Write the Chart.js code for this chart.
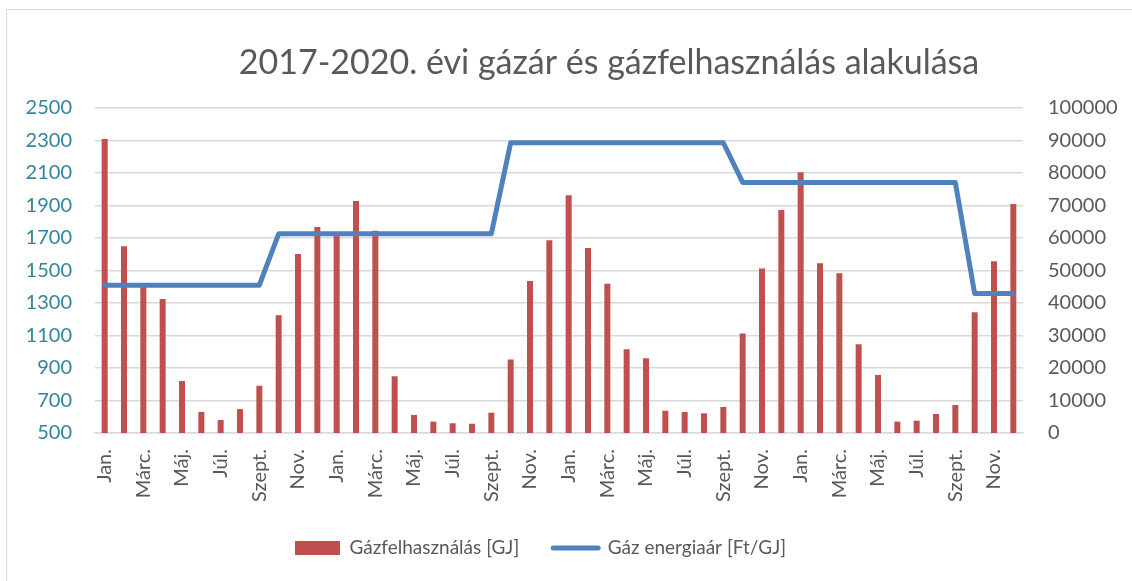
<!DOCTYPE html>
<html>
<head>
<meta charset="utf-8">
<script src="https://cdn.jsdelivr.net/npm/chart.js@4.4.1/dist/chart.umd.min.js"></script>
<style>
  html, body { margin: 0; padding: 0; background: #ffffff; }
  #wrap { position: relative; width: 1132px; height: 581px; overflow: hidden; background: #fff; }
  #frame { position: absolute; left: 6px; top: 9px; width: 1300px; height: 800px;
           border-top: 1.5px solid #d9d9d9; border-left: 1.5px solid #d9d9d9; pointer-events: none; }
  canvas { position: absolute; left: 0; top: 0; }
</style>
</head>
<body>
<div id="wrap">
  <div id="frame"></div>
  <canvas id="c" width="1132" height="581"></canvas>
</div>
<script>
// ---- data ----
const chartTitle = '2017-2020. évi gázár és gázfelhasználás alakulása';
const years = ['2017', '2018', '2019', '2020'];
const monthNames = ['Jan.', 'Febr.', 'Márc.', 'Ápr.', 'Máj.', 'Jún.', 'Júl.', 'Aug.', 'Szept.', 'Okt.', 'Nov.', 'Dec.'];
const categories = years.flatMap(() => monthNames);

const consumptionLabel = 'Gázfelhasználás [GJ]';
const consumption2017 = [2310, 1650, 1400, 1325, 820, 630, 580, 648, 791, 1224, 1601, 1768];
const consumption2018 = [1720, 1928, 1745, 849, 611, 570, 560, 557, 625, 953, 1435, 1686];
const consumption2019 = [1963, 1638, 1419, 1015, 960, 637, 629, 621, 660, 1113, 1513, 1872];
const consumption2020 = [2104, 1544, 1483, 1046, 857, 570, 576, 617, 672, 1243, 1557, 1909];
const consumption = [...consumption2017, ...consumption2018, ...consumption2019, ...consumption2020];

const priceLabel = 'Gáz energiaár [Ft/GJ]';
const price2017 = [45500, 45500, 45500, 45500, 45500, 45500, 45500, 45500, 45500, 61300, 61300, 61300];
const price2018 = [61300, 61300, 61300, 61300, 61300, 61300, 61300, 61300, 61300, 89300, 89300, 89300];
const price2019 = [89300, 89300, 89300, 89300, 89300, 89300, 89300, 89300, 89300, 77100, 77100, 77100];
const price2020 = [77100, 77100, 77100, 77100, 77100, 77100, 77100, 77100, 77100, 42900, 42900, 42900];
const price = [...price2017, ...price2018, ...price2019, ...price2020];

// axis ranges: [min, max, step]
const gjAxis = [500, 2500, 200];
const priceAxis = [0, 100000, 10000];

// ---- styling ----
const FONT = 'Lato';
const GRID = '#D9D9D9';
const TEXT = '#595959';

const titlePlugin = {
  id: 'customTitle',
  afterDraw(chart) {
    const ctx = chart.ctx;
    ctx.save();
    ctx.font = 'normal 34px ' + FONT;
    ctx.fillStyle = TEXT;
    ctx.textAlign = 'center';
    ctx.textBaseline = 'middle';
    ctx.fillText(chartTitle, 609, 63);
    ctx.restore();
  }
};

const legendShift = {
  id: 'legendShift',
  afterLayout(chart) {
    const lg = chart.legend;
    if (!lg || !lg.lineWidths) return;
    const p = lg.options.labels.padding;
    const start = (lg.left + p + lg.right - lg.lineWidths[0]) / 2;
    const dx = 295 - start;
    lg.left += dx;
    lg.right += dx;
  }
};

const plainNumber = (v) => String(v);

new Chart(document.getElementById('c'), {
  data: {
    labels: categories,
    datasets: [
      {
        type: 'bar',
        label: consumptionLabel,
        data: consumption,
        backgroundColor: '#C0504D',
        borderWidth: 0,
        yAxisID: 'y',
        barPercentage: 0.31,
        categoryPercentage: 1,
        order: 1
      },
      {
        type: 'line',
        label: priceLabel,
        data: price,
        borderColor: '#4F81BD',
        backgroundColor: '#4F81BD',
        borderWidth: 5,
        borderJoinStyle: 'round',
        borderCapStyle: 'round',
        pointRadius: 0,
        tension: 0,
        fill: false,
        yAxisID: 'y1',
        order: 0
      }
    ]
  },
  options: {
    responsive: false,
    animation: false,
    layout: { padding: { top: 108, bottom: 13.5, left: 0, right: 0 } },
    scales: {
      x: {
        offset: true,
        grid: { display: false, drawTicks: false },
        border: { display: true, color: GRID, width: 1.5 },
        ticks: {
          autoSkip: false, minRotation: 90, maxRotation: 90, padding: 16,
          color: TEXT, font: { family: FONT, size: 20 },
          callback: (v, i) => (i % 2 === 0 ? categories[i] : '')
        },
        afterFit: (s) => { s.height = 71.5; }
      },
      y: {
        position: 'left',
        min: gjAxis[0], max: gjAxis[1],
        ticks: { stepSize: gjAxis[2], padding: 23, color: '#31859C', font: { family: FONT, size: 20 }, callback: plainNumber },
        grid: { color: GRID, lineWidth: 1.5, drawTicks: false },
        border: { display: false },
        afterFit: (s) => { s.width = 95; }
      },
      y1: {
        position: 'right',
        min: priceAxis[0], max: priceAxis[1],
        ticks: { stepSize: priceAxis[2], padding: 25, color: TEXT, font: { family: FONT, size: 20 }, callback: plainNumber },
        grid: { drawOnChartArea: false, drawTicks: false },
        border: { display: false },
        afterFit: (s) => { s.width = 109; }
      }
    },
    plugins: {
      title: { display: false },
      tooltip: { enabled: false },
      legend: {
        position: 'bottom',
        labels: {
          usePointStyle: true,
          pointStyleWidth: 45,
          boxHeight: 14,
          padding: 34,
          color: TEXT,
          font: { family: FONT, size: 19 },
          sort: (a, b) => a.datasetIndex - b.datasetIndex,
          generateLabels(chart) {
            const items = Chart.defaults.plugins.legend.labels.generateLabels(chart);
            items.forEach((it) => {
              const ds = chart.data.datasets[it.datasetIndex];
              if (ds.type === 'line') {
                it.pointStyle = 'line';
                it.lineWidth = 5;
                it.lineCap = 'round';
                it.strokeStyle = '#4F81BD';
              } else {
                it.pointStyle = 'rect';
                it.lineWidth = 0;
                it.fillStyle = '#C0504D';
              }
            });
            return items;
          }
        }
      }
    }
  },
  plugins: [titlePlugin, legendShift]
});
</script>
</body>
</html>
